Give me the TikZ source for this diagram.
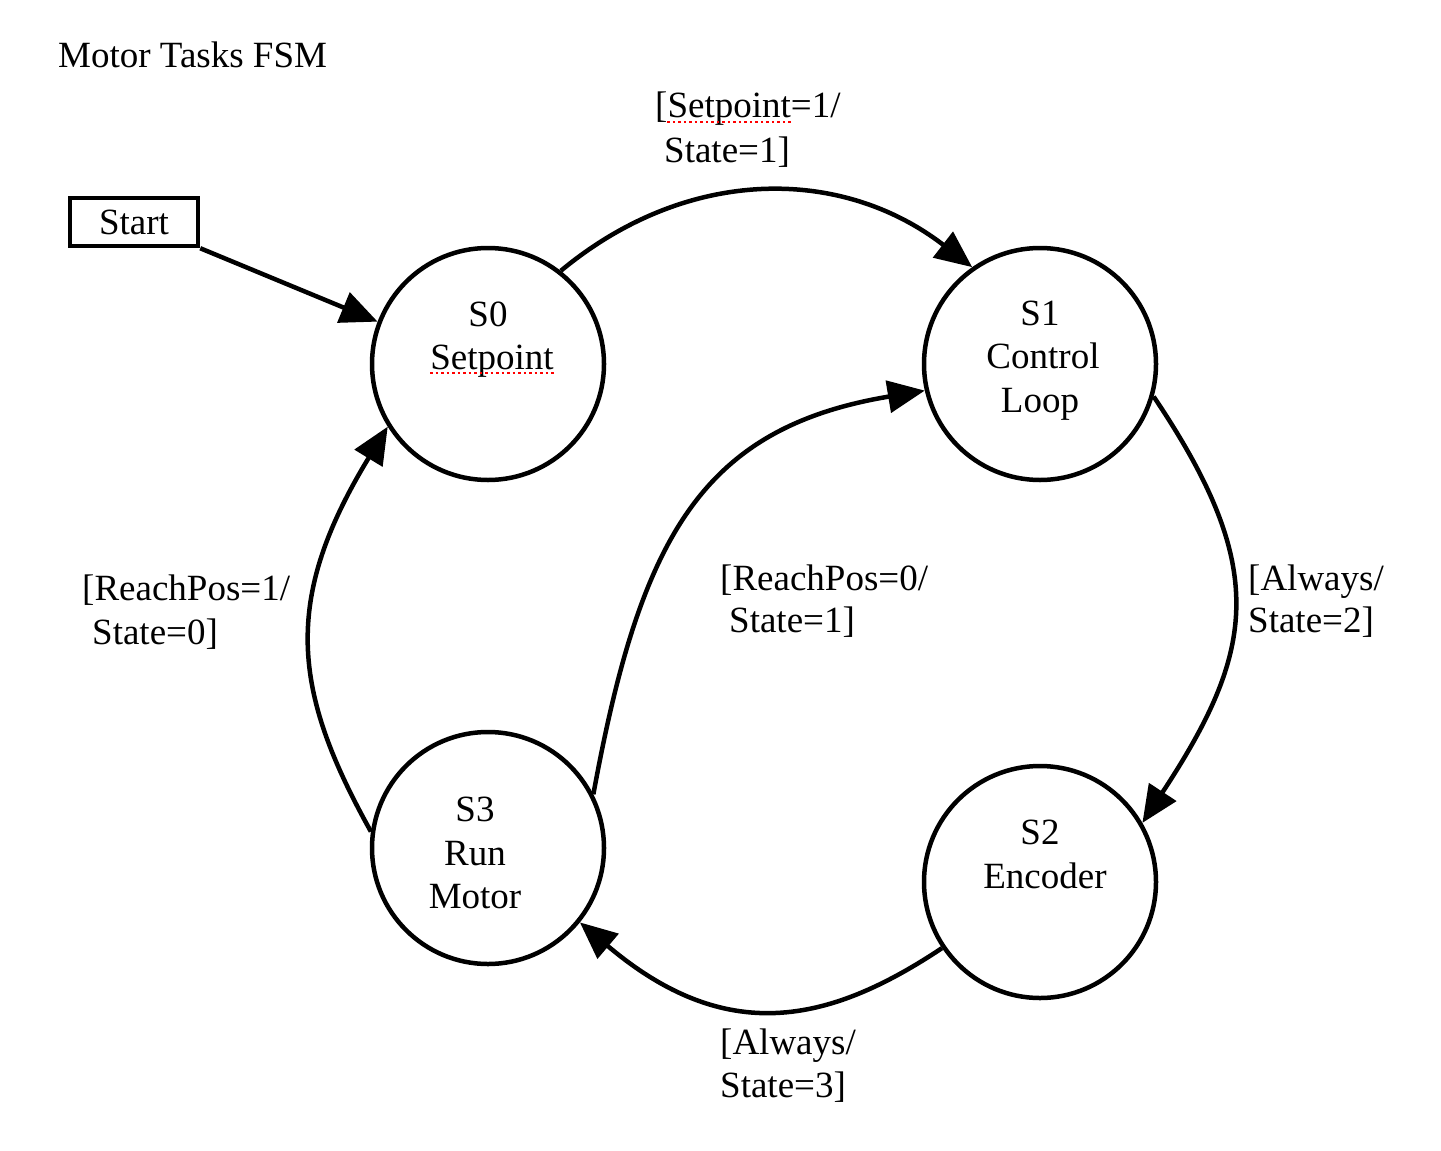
\documentclass[tikz,border=0pt]{standalone}
\usepackage{fontspec}
\setmainfont{Liberation Serif}
\usetikzlibrary{arrows.meta}
\begin{document}
\begin{tikzpicture}[x=1pt,y=-1pt,
  state/.style={circle,draw,line width=4.5pt,minimum size=232pt,inner sep=0pt},
  txt/.style={font=\fontsize{37}{44}\selectfont,inner sep=0pt,anchor=base},
  lbl/.style={txt,anchor=base west},
  edge/.style={line width=4.5pt,-{Triangle[length=37pt,width=32pt]}},
  spell/.style={red,line width=2.5pt,dash pattern=on 2.5pt off 3pt}
]
\useasboundingbox[fill=white] (0,0) rectangle (1441,1151);

% states
\node[state] (s0) at (488,364) {};
\node[state] (s1) at (1040,364) {};
\node[state] (s2) at (1040,882) {};
\node[state] (s3) at (488,848) {};

% state texts
\node[txt] (s0a) at (488,326) {S0};
\node[txt] (s0b) at (492,369) {Setpoint};
\node[txt] (s1a) at (1040,325) {S1};
\node[txt] (s1b) at (1043,368) {Control};
\node[txt] (s1c) at (1040,412) {Loop};
\node[txt] (s2a) at (1040,844) {S2};
\node[txt] (s2b) at (1045,888) {Encoder};
\node[txt] (s3a) at (475,821) {S3};
\node[txt] (s3b) at (475,865) {Run};
\node[txt] (s3c) at (475,908) {Motor};

% title and start
\node[lbl] (title) at (58,67) {Motor Tasks FSM};
\node[draw,line width=4.5pt,minimum width=128pt,minimum height=48pt,inner sep=0pt,
      font=\fontsize{37}{44}\selectfont] (start) at (134,222) {Start};

% transitions
\draw[edge] (start.south east) -- (s0.159);
\draw[edge] (s0.52) .. controls (687,166) and (841,166) .. (s1.125);
\draw[edge] (s1.-16) .. controls (1269,568) and (1256,650) .. (s2.30);
\draw[edge] (s2.214) .. controls (828,1024) and (726,1046) .. (s3.-39);
\draw[edge] (s3.172) .. controls (292,690) and (282,600) .. (s0.212);
\draw[edge] (s3.27) .. controls (640,540) and (700,428) .. (s1.193);

% labels
\node[lbl] (l01a) at (655,117) {[Setpoint=1/};
\node[lbl] (l01b) at (664,162) {State=1]};
\node[lbl] (l30a) at (82,600) {[ReachPos=1/};
\node[lbl] (l30b) at (92,644) {State=0]};
\node[lbl] (l31a) at (720,590) {[ReachPos=0/};
\node[lbl] (l31b) at (729,632) {State=1]};
\node[lbl] (l12a) at (1248,590) {[Always/};
\node[lbl] (l12b) at (1248,632) {State=2]};
\node[lbl] (l23a) at (720,1054) {[Always/};
\node[lbl] (l23b) at (720,1097) {State=3]};

% spell-check underlines
\draw[spell] ([yshift=-4pt]s0b.base west) -- ([yshift=-4pt]s0b.base east);
\draw[spell] ([xshift=12.3pt,yshift=-5pt]l01a.base west) -- ++(124,0);
\end{tikzpicture}
\end{document}
